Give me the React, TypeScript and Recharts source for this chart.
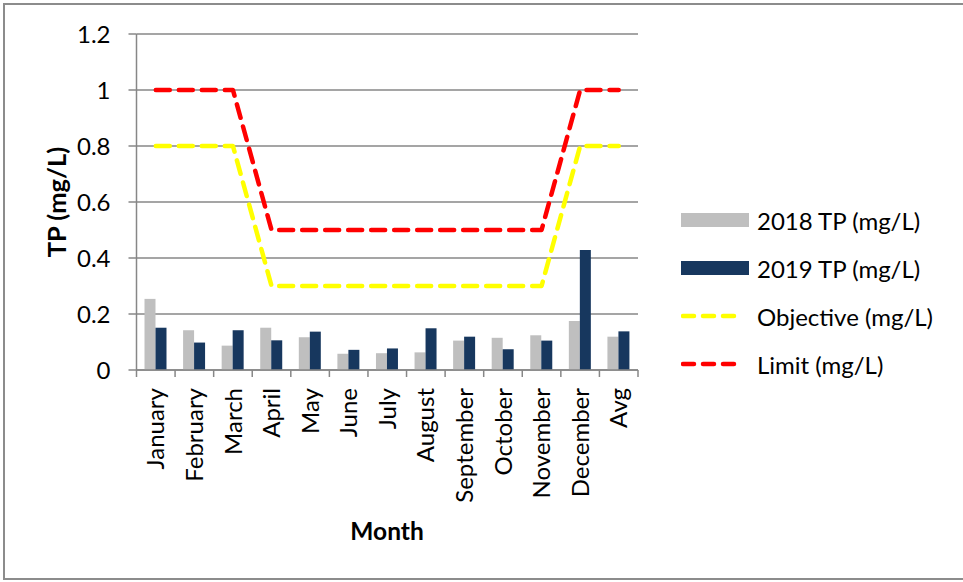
import React from 'react';
import { ComposedChart, Bar, Line, XAxis, YAxis, CartesianGrid, Legend, Label } from 'recharts';

// Monthly total phosphorus, with objective / limit targets
const months = [
  'January', 'February', 'March', 'April', 'May', 'June', 'July',
  'August', 'September', 'October', 'November', 'December', 'Avg',
];
const tp2018 = [0.254, 0.142, 0.087, 0.151, 0.117, 0.058, 0.060, 0.063, 0.105, 0.115, 0.124, 0.175, 0.119];
const tp2019 = [0.151, 0.098, 0.142, 0.106, 0.137, 0.072, 0.077, 0.149, 0.119, 0.074, 0.105, 0.429, 0.138];
const objective = [0.8, 0.8, 0.8, 0.3, 0.3, 0.3, 0.3, 0.3, 0.3, 0.3, 0.3, 0.8, 0.8];
const limit = [1, 1, 1, 0.5, 0.5, 0.5, 0.5, 0.5, 0.5, 0.5, 0.5, 1, 1];
const yTicks = [0, 0.2, 0.4, 0.6, 0.8, 1, 1.2];

const seriesNames = ['2018 TP (mg/L)', '2019 TP (mg/L)', 'Objective (mg/L)', 'Limit (mg/L)'];

const data = months.map((month, i) => ({
  month,
  tp2018: tp2018[i],
  tp2019: tp2019[i],
  objective: objective[i],
  limit: limit[i],
}));

const FONT = 'Lato, "Noto Sans", sans-serif';
const GRID = '#878787';
const GRAY = '#BFBFBF';
const NAVY = '#17375E';
const YELLOW = '#FFFF00';
const RED = '#FF0000';
const DASH = '14 9';

const legendItems = [
  { name: seriesNames[0], color: GRAY, kind: 'bar' },
  { name: seriesNames[1], color: NAVY, kind: 'bar' },
  { name: seriesNames[2], color: YELLOW, kind: 'line' },
  { name: seriesNames[3], color: RED, kind: 'line' },
];

// category labels rotated, with tick marks on the category boundaries
const MonthTick = (props: any) => {
  const { x, y, payload, index } = props;
  const half = payload.offset ?? 0;
  const ty = y + 18;
  return (
    <g>
      <line x1={x - half} y1={y} x2={x - half} y2={y + 7} stroke={GRID} strokeWidth={1.5} />
      {index === months.length - 1 && (
        <line x1={x + half} y1={y} x2={x + half} y2={y + 7} stroke={GRID} strokeWidth={1.5} />
      )}
      <text
        x={x}
        y={ty}
        dy="0.36em"
        transform={`rotate(-90 ${x} ${ty})`}
        textAnchor="end"
        fontFamily={FONT}
        fontSize={24}
        fill="#000"
      >
        {payload.value}
      </text>
    </g>
  );
};

const renderLegend = () => (
  <div style={{ fontFamily: FONT, fontSize: 24, color: '#000' }}>
    {legendItems.map((item) => (
      <div key={item.name} style={{ display: 'flex', alignItems: 'center', height: 48 }}>
        <svg width={70} height={20} style={{ flex: 'none' }}>
          {item.kind === 'bar' ? (
            <rect x={0} y={3} width={68} height={14} fill={item.color} />
          ) : (
            <line
              x1={2}
              y1={10}
              x2={60}
              y2={10}
              stroke={item.color}
              strokeWidth={4.5}
              strokeDasharray="11 9"
              strokeLinecap="round"
            />
          )}
        </svg>
        <span style={{ marginLeft: 6, whiteSpace: 'nowrap' }}>{item.name}</span>
      </div>
    ))}
  </div>
);

export default function App() {
  return (
    <div
      style={{
        position: 'absolute',
        left: 0,
        top: 0,
        width: 963,
        height: 582,
        overflow: 'hidden',
        background: '#fff',
        fontFamily: FONT,
      }}
    >
      <div
        style={{
          position: 'absolute',
          left: 3,
          top: 3,
          width: 990,
          height: 577,
          border: '2px solid #8C8C8C',
          boxSizing: 'border-box',
        }}
      />
      <div style={{ position: 'absolute', left: 0, top: 0 }}>
        <ComposedChart
          width={963}
          height={582}
          data={data}
          margin={{ top: 34, right: 325, bottom: 0, left: 0 }}
          barGap={0}
        >
          <CartesianGrid vertical={false} stroke={GRID} strokeWidth={1.5} />
          <XAxis
            dataKey="month"
            height={212}
            interval={0}
            tickLine={false}
            tickSize={0}
            tickMargin={0}
            axisLine={{ stroke: GRID, strokeWidth: 1.5 }}
            tick={<MonthTick />}
          >
            <Label
              content={() => (
                <text x={387} y={540} textAnchor="middle" fontFamily={FONT} fontWeight={700} fontSize={24.5} fill="#000">
                  Month
                </text>
              )}
            />
          </XAxis>
          <YAxis
            width={136.5}
            domain={[0, 1.2]}
            ticks={yTicks}
            interval={0}
            tickSize={8}
            tickMargin={18}
            tickLine={{ stroke: GRID, strokeWidth: 1.5 }}
            axisLine={{ stroke: GRID, strokeWidth: 1.5 }}
            tick={{ fill: '#000', fontSize: 24, fontFamily: FONT }}
          >
            <Label
              content={() => (
                <text
                  x={57}
                  y={202}
                  dy="0.36em"
                  transform="rotate(-90 57 202)"
                  textAnchor="middle"
                  fontFamily={FONT}
                  fontWeight={700}
                  fontSize={25.5}
                  fill="#000"
                >
                  TP (mg/L)
                </text>
              )}
            />
          </YAxis>
          <Bar dataKey="tp2018" name={seriesNames[0]} fill={GRAY} barSize={11} isAnimationActive={false} />
          <Bar dataKey="tp2019" name={seriesNames[1]} fill={NAVY} barSize={11} isAnimationActive={false} />
          <Line
            type="linear"
            dataKey="objective"
            name={seriesNames[2]}
            stroke={YELLOW}
            strokeWidth={4.5}
            strokeDasharray={DASH}
            strokeLinecap="round"
            strokeLinejoin="round"
            dot={false}
            activeDot={false}
            isAnimationActive={false}
          />
          <Line
            type="linear"
            dataKey="limit"
            name={seriesNames[3]}
            stroke={RED}
            strokeWidth={4.5}
            strokeDasharray={DASH}
            strokeLinecap="round"
            strokeLinejoin="round"
            dot={false}
            activeDot={false}
            isAnimationActive={false}
          />
          <Legend
            layout="vertical"
            align="center"
            verticalAlign="middle"
            wrapperStyle={{ left: 681, top: 196, width: 280 }}
            content={renderLegend}
          />
        </ComposedChart>
      </div>
    </div>
  );
}
